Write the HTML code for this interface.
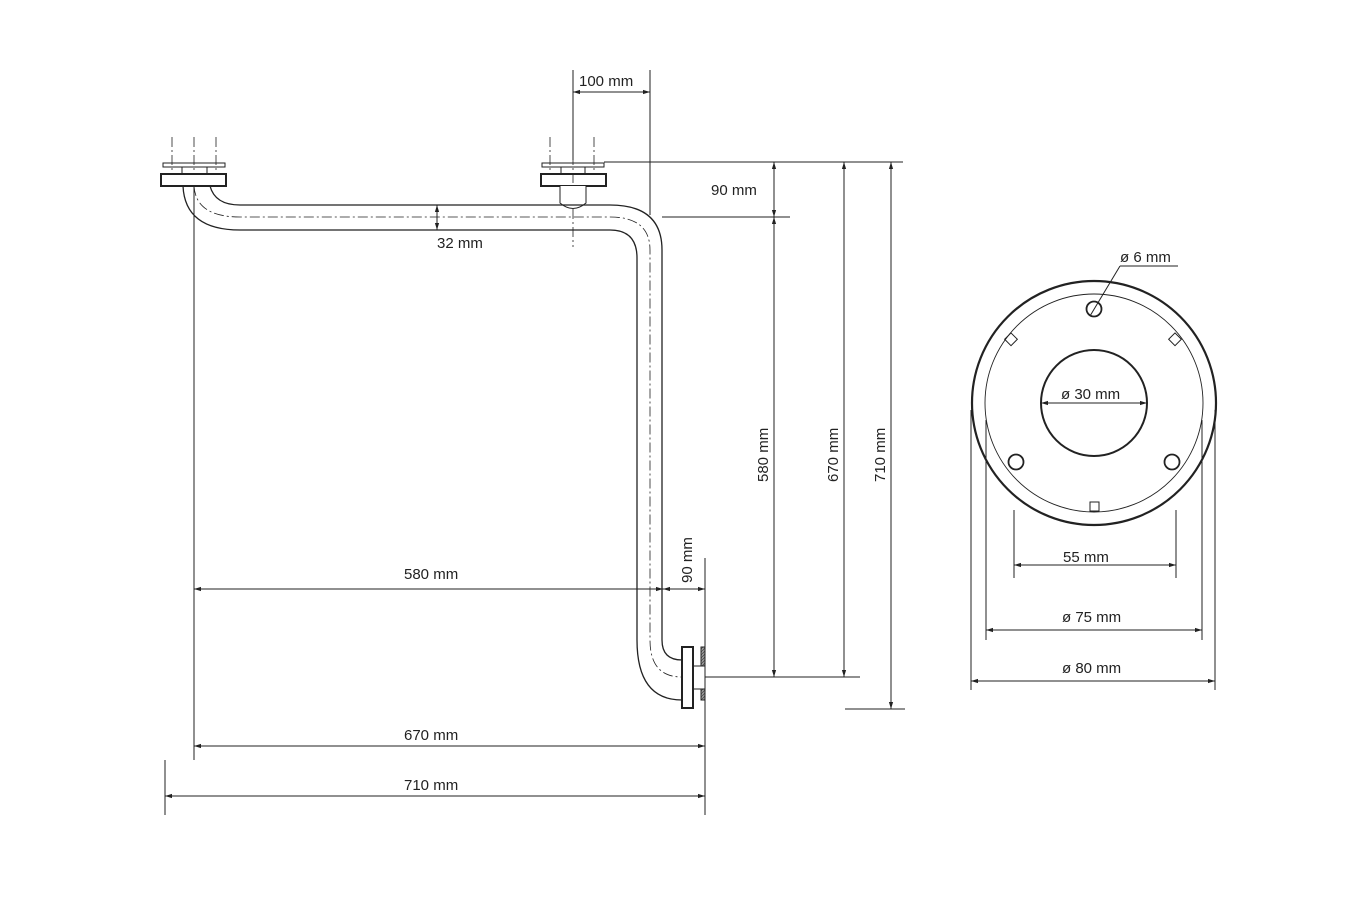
<!DOCTYPE html>
<html><head><style>body{margin:0;background:#fff}svg{display:block}text{font-family:"Liberation Sans",sans-serif;font-size:15px;fill:#222}</style></head>
<body>
<svg width="1366" height="908" viewBox="0 0 1366 908" xmlns="http://www.w3.org/2000/svg">
<defs>
<marker id="a" viewBox="0 0 10 10" refX="10" refY="5" markerWidth="7" markerHeight="7" orient="auto-start-reverse"><path d="M0,2 L10,5 L0,8z" fill="#222"/></marker>
<pattern id="h" width="3" height="3" patternUnits="userSpaceOnUse"><rect width="3" height="3" fill="#999"/><path d="M0,3L3,0" stroke="#333" stroke-width=".6"/></pattern>
</defs>
<g fill="none" stroke="#222" stroke-width="1">
<!-- centre dash lines -->
<g stroke-dasharray="10,3,2,3" stroke-width=".8">
<line x1="172" y1="137" x2="172" y2="170"/><line x1="194" y1="137" x2="194" y2="174"/><line x1="216" y1="137" x2="216" y2="170"/>
<line x1="550" y1="137" x2="550" y2="170"/><line x1="573" y1="137" x2="573" y2="247"/><line x1="594" y1="137" x2="594" y2="170"/>
<path d="M194,186 Q196,217 240,217 L610,217 Q650,217 650,250 L650,640 Q650,677 682,677"/>
</g>
<!-- flanges -->
<rect x="163" y="163" width="62" height="4"/><line x1="182" y1="167" x2="182" y2="174"/><line x1="207" y1="167" x2="207" y2="174"/>
<rect x="161" y="174" width="65" height="12" stroke-width="2"/>
<rect x="542" y="163" width="62" height="4"/><line x1="561" y1="167" x2="561" y2="174"/><line x1="585" y1="167" x2="585" y2="174"/>
<rect x="541" y="174" width="65" height="12" stroke-width="2"/>
<path d="M560,186 L560,203 Q573,214 586,203 L586,186" fill="#fff"/>
<!-- pipe -->
<path d="M183,186 Q185,230 240,230 L610,230 Q637,230 637,258 L637,640 Q637,700 682,700" stroke-width="1.3"/>
<path d="M210,186 Q215,205 240,205 L586,205 M586,205 L610,205 Q662,205 662,250 L662,640 Q662,660 682,660" stroke-width="1.3"/>
<rect x="682" y="647" width="11" height="61" stroke-width="2" fill="#fff"/>
<rect x="693" y="666" width="12" height="23"/>
<rect x="701" y="647" width="4" height="19" fill="url(#h)"/><rect x="701" y="689" width="4" height="11" fill="url(#h)"/>
<!-- extension lines -->
<line x1="573" y1="70" x2="573" y2="160"/><line x1="650" y1="70" x2="650" y2="215"/>
<line x1="604" y1="162" x2="903" y2="162"/><line x1="662" y1="217" x2="790" y2="217"/>
<line x1="705" y1="677" x2="860" y2="677"/><line x1="845" y1="709" x2="905" y2="709"/>
<line x1="194" y1="186" x2="194" y2="760"/><line x1="165" y1="760" x2="165" y2="815"/>
<line x1="705" y1="558" x2="705" y2="815"/>
<!-- dims -->
<g marker-start="url(#a)" marker-end="url(#a)">
<line x1="573" y1="92" x2="650" y2="92"/>
<line x1="774" y1="162" x2="774" y2="217"/><line x1="774" y1="217" x2="774" y2="677"/>
<line x1="844" y1="162" x2="844" y2="677"/><line x1="891" y1="162" x2="891" y2="709"/>
<line x1="437" y1="205" x2="437" y2="230"/>
<line x1="194" y1="589" x2="663" y2="589"/><line x1="663" y1="589" x2="705" y2="589"/>
<line x1="194" y1="746" x2="705" y2="746"/><line x1="165" y1="796" x2="705" y2="796"/>
<line x1="1041" y1="403" x2="1147" y2="403"/>
<line x1="1014" y1="565" x2="1176" y2="565"/><line x1="986" y1="630" x2="1202" y2="630"/><line x1="971" y1="681" x2="1215" y2="681"/>
</g>
<!-- circle view -->
<circle cx="1094" cy="403" r="122" stroke-width="2.2"/>
<circle cx="1094" cy="403" r="109" stroke-width=".9"/>
<circle cx="1094" cy="403" r="53" stroke-width="2"/>
<circle cx="1094" cy="309" r="7.5" stroke-width="1.8"/>
<circle cx="1016" cy="462" r="7.5" stroke-width="1.8"/><circle cx="1172" cy="462" r="7.5" stroke-width="1.8"/>
<rect x="1006" y="335" width="9" height="9" transform="rotate(45 1011 340)"/>
<rect x="1170" y="335" width="9" height="9" transform="rotate(45 1175 340)"/>
<rect x="1090" y="502" width="9" height="9"/>
<line x1="1090" y1="316" x2="1120" y2="266"/><line x1="1120" y1="266" x2="1178" y2="266"/>
<line x1="1014" y1="510" x2="1014" y2="578"/><line x1="1176" y1="510" x2="1176" y2="578"/>
<line x1="986" y1="420" x2="986" y2="640"/><line x1="1202" y1="420" x2="1202" y2="640"/>
<line x1="971" y1="410" x2="971" y2="690"/><line x1="1215" y1="410" x2="1215" y2="690"/>
</g>
<text x="579" y="86">100 mm</text>
<text x="711" y="195">90 mm</text>
<text x="437" y="248">32 mm</text>
<text x="404" y="579">580 mm</text>
<text x="404" y="740">670 mm</text>
<text x="404" y="790">710 mm</text>
<text transform="translate(692,583) rotate(-90)">90 mm</text>
<text transform="translate(768,482) rotate(-90)">580 mm</text>
<text transform="translate(838,482) rotate(-90)">670 mm</text>
<text transform="translate(885,482) rotate(-90)">710 mm</text>
<text x="1120" y="262">ø 6 mm</text>
<text x="1061" y="399">ø 30 mm</text>
<text x="1063" y="562">55 mm</text>
<text x="1062" y="622">ø 75 mm</text>
<text x="1062" y="673">ø 80 mm</text>
</svg>
</body></html>
